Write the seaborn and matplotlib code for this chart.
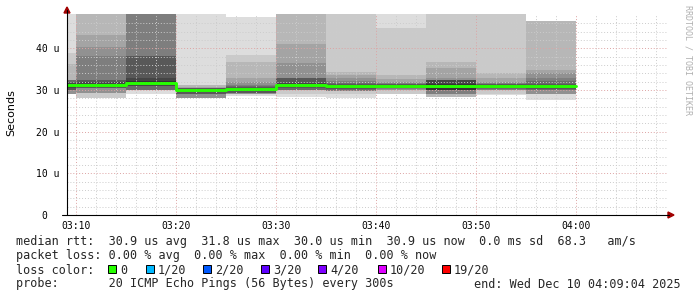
import numpy as np
import pandas as pd
import matplotlib
matplotlib.use("Agg")
import matplotlib.pyplot as plt
import seaborn as sns
from matplotlib.lines import Line2D
from matplotlib.patches import Rectangle, Polygon

# ---------------- data ----------------
start_time = "03:09:04"
end_time = "04:09:04"
bin_end = ["03:10", "03:15", "03:20", "03:25", "03:30", "03:35",
           "03:40", "03:45", "03:50", "03:55", "04:00"]
# 20 sorted ping RTTs per 5-minute bin (microseconds)
pings = [
    [29.0, 29.0, 29.0, 29.0, 29.0, 30.0, 30.0, 30.0, 30.4, 30.8, 31.3, 31.6, 32.0, 32.3, 32.3, 32.3, 32.4, 36.2, 38.9, 55.0],
    [28.1, 28.1, 29.3, 29.3, 29.3, 30.5, 30.5, 30.5, 30.8, 31.0, 31.5, 32.0, 32.3, 32.4, 38.2, 40.3, 43.2, 55.0, 55.0, 55.0],
    [29.0, 30.0, 30.0, 30.0, 30.0, 30.0, 30.0, 30.9, 31.0, 31.5, 32.2, 32.9, 38.1, 38.2, 55.0, 55.0, 55.0, 55.0, 55.0, 55.0],
    [28.1, 28.1, 28.1, 28.1, 28.1, 29.0, 29.0, 29.0, 29.6, 29.9, 30.1, 30.3, 30.4, 30.5, 30.5, 30.6, 30.7, 31.2, 31.3, 55.0],
    [28.5, 29.0, 29.0, 29.0, 29.0, 29.2, 29.3, 29.4, 29.8, 30.2, 30.5, 30.6, 30.8, 30.9, 31.2, 31.9, 32.8, 36.8, 38.4, 47.6],
    [28.3, 29.0, 29.9, 29.9, 29.9, 29.9, 29.9, 30.5, 30.7, 30.9, 31.3, 31.6, 32.8, 32.9, 32.9, 36.5, 41.0, 55.0, 55.0, 55.0],
    [28.1, 29.0, 29.8, 29.8, 29.8, 29.8, 30.0, 30.3, 30.6, 30.9, 31.2, 31.3, 31.4, 31.6, 32.2, 33.0, 33.7, 34.4, 55.0, 55.0],
    [29.0, 29.0, 30.0, 30.0, 30.0, 30.2, 30.4, 30.6, 30.8, 31.0, 31.2, 31.3, 31.4, 31.5, 31.6, 32.0, 32.6, 33.6, 44.8, 55.0],
    [28.4, 28.4, 28.4, 29.0, 29.0, 29.0, 30.0, 30.0, 30.0, 30.0, 31.4, 32.4, 32.4, 32.5, 32.5, 33.0, 35.2, 36.8, 55.0, 55.0],
    [28.8, 29.0, 30.0, 30.0, 30.0, 30.1, 30.3, 30.5, 30.7, 30.9, 31.2, 31.3, 31.4, 31.5, 31.6, 32.0, 33.0, 34.0, 55.0, 55.0],
    [27.5, 29.0, 29.0, 29.0, 29.0, 30.0, 30.1, 30.3, 30.5, 30.7, 31.1, 31.3, 31.4, 32.2, 32.9, 34.1, 34.9, 46.6, 46.6, 46.6],
]
median_rtt = [31.1, 31.2, 31.8, 30.0, 30.3, 31.1, 31.0, 31.0, 31.0, 31.0, 30.9]

x_tick_labels = ["03:10", "03:20", "03:30", "03:40", "03:50", "04:00"]
y_ticks = [0, 10, 20, 30, 40]
y_tick_labels = ["0  ", "10 u", "20 u", "30 u", "40 u"]
y_top = 48.24
y_label = "Seconds"

legend_rtt = "median rtt:  30.9 us avg  31.8 us max  30.0 us min  30.9 us now  0.0 ms sd  68.3   am/s"
legend_loss = "packet loss: 0.00 % avg  0.00 % max  0.00 % min  0.00 % now"
loss_title = "loss color:"
loss_labels = ["0", "1/20", "2/20", "3/20", "4/20", "10/20", "19/20"]
loss_colors = ["#26ff00", "#00b8ff", "#0059ff", "#5e00ff", "#7e00ff", "#dd00ff", "#ff0000"]
probe_text = "probe:       20 ICMP Echo Pings (56 Bytes) every 300s"
end_text = "end: Wed Dec 10 04:09:04 2025"
watermark = "RRDTOOL / TOBI OETIKER"

# ---------------- helpers ----------------
def to_min(s):
    parts = [int(v) for v in s.split(":")]
    m = (parts[0] - 3) * 60 + parts[1]
    if len(parts) > 2:
        m += parts[2] / 60.0
    return m

W, H = 697, 297
def fx(x):
    return x / W
def fy(y):
    return 1 - y / H

sns.set_theme(style="white")
plt.rcParams["font.family"] = ["DejaVu Sans"]
mono = "DejaVu Sans Mono"

fig = plt.figure(figsize=(W / 100, H / 100), dpi=100)
fig.patch.set_facecolor("white")
ax = fig.add_axes([fx(67), fy(215), 600 / W, 201 / H])
ax.set_facecolor("white")

ends = [to_min(s) for s in bin_end]
edges = [ends[0] - 5] + ends
arr = np.array(pings)
npings = arr.shape[1]
half = npings // 2
for i in range(1, half + 1):
    c = int(190 / half * (half - i)) + 50
    col = "#%02x%02x%02x" % (c, c, c)
    lo = list(arr[:, i - 1])
    hi = list(arr[:, npings - i])
    ax.fill_between(edges, lo + [lo[-1]], hi + [hi[-1]], step="post",
                    color=col, linewidth=0, antialiased=False, zorder=1)

df = pd.DataFrame({"t": edges, "median": median_rtt + [median_rtt[-1]]})
sns.lineplot(data=df, x="t", y="median", drawstyle="steps-post",
             color=loss_colors[0], linewidth=2.1, ax=ax, zorder=3)

ax.set_xlim(to_min(start_time), to_min(end_time))
ax.set_ylim(0, y_top)

major_x = [to_min(s) for s in x_tick_labels]
ax.set_xticks(major_x)
ax.set_xticks(np.arange(major_x[0], to_min(end_time), 2), minor=True)
ax.set_xticklabels(x_tick_labels, family=mono, fontsize=7)
ax.set_yticks(y_ticks)
ax.set_yticks(np.arange(2, y_top - 1, 2), minor=True)
ax.set_yticklabels(y_tick_labels, family=mono, fontsize=7)
ax.tick_params(axis="y", which="both", length=0, pad=5.6, colors="black")
ax.tick_params(axis="x", which="both", length=0, pad=4.5, colors="black")
ax.set_xlabel("")
ax.set_ylabel("")
ax.set_axisbelow(False)
ax.grid(which="minor", color="#cccccc", linestyle=(0, (1, 2)), linewidth=0.7, zorder=2)
ax.grid(which="major", color="#dda3a3", linestyle=(0, (1, 2)), linewidth=0.7, zorder=2)
for s in ax.spines.values():
    s.set_visible(False)

# axes lines + arrows
fig.add_artist(Line2D([fx(67), fx(67)], [fy(215), fy(10)], color="black", lw=0.8))
fig.add_artist(Line2D([fx(62), fx(669)], [fy(215), fy(215)], color="black", lw=0.8))
fig.add_artist(Polygon([[fx(64), fy(13)], [fx(70), fy(13)], [fx(67), fy(7)]],
                       closed=True, color="#a00000", transform=fig.transFigure))
fig.add_artist(Polygon([[fx(668), fy(212)], [fx(668), fy(218)], [fx(674), fy(215)]],
                       closed=True, color="#a00000", transform=fig.transFigure))

fig.text(fx(11), fy(113), y_label, rotation=90, ha="center", va="center",
         fontsize=8, color="black")
fig.text(fx(688), fy(5), watermark, rotation=-90, ha="center", va="top",
         fontsize=6, family=mono, color="#b0b0b0")

# legend
fig.text(fx(16), fy(245), legend_rtt, family=mono, fontsize=8.5, va="baseline", ha="left")
fig.text(fx(16), fy(259.5), legend_loss, family=mono, fontsize=8.5, va="baseline", ha="left")
fig.text(fx(16), fy(273.5), loss_title, family=mono, fontsize=8.5, va="baseline", ha="left")
box_x = [108, 146, 203, 261, 318, 378, 442]
for bx, lab, colr in zip(box_x, loss_labels, loss_colors):
    fig.add_artist(Rectangle((fx(bx), fy(273)), 8 / W, 8 / H, facecolor=colr,
                             edgecolor="black", linewidth=0.7, transform=fig.transFigure))
    fig.text(fx(bx + 12), fy(273.5), lab, family=mono, fontsize=8.5, va="baseline", ha="left")
fig.text(fx(16), fy(287.5), probe_text, family=mono, fontsize=8.5, va="baseline", ha="left")
fig.text(fx(681), fy(287.5), end_text, family=mono, fontsize=8.5, va="baseline", ha="right")

fig.savefig("out.png", dpi=100)
